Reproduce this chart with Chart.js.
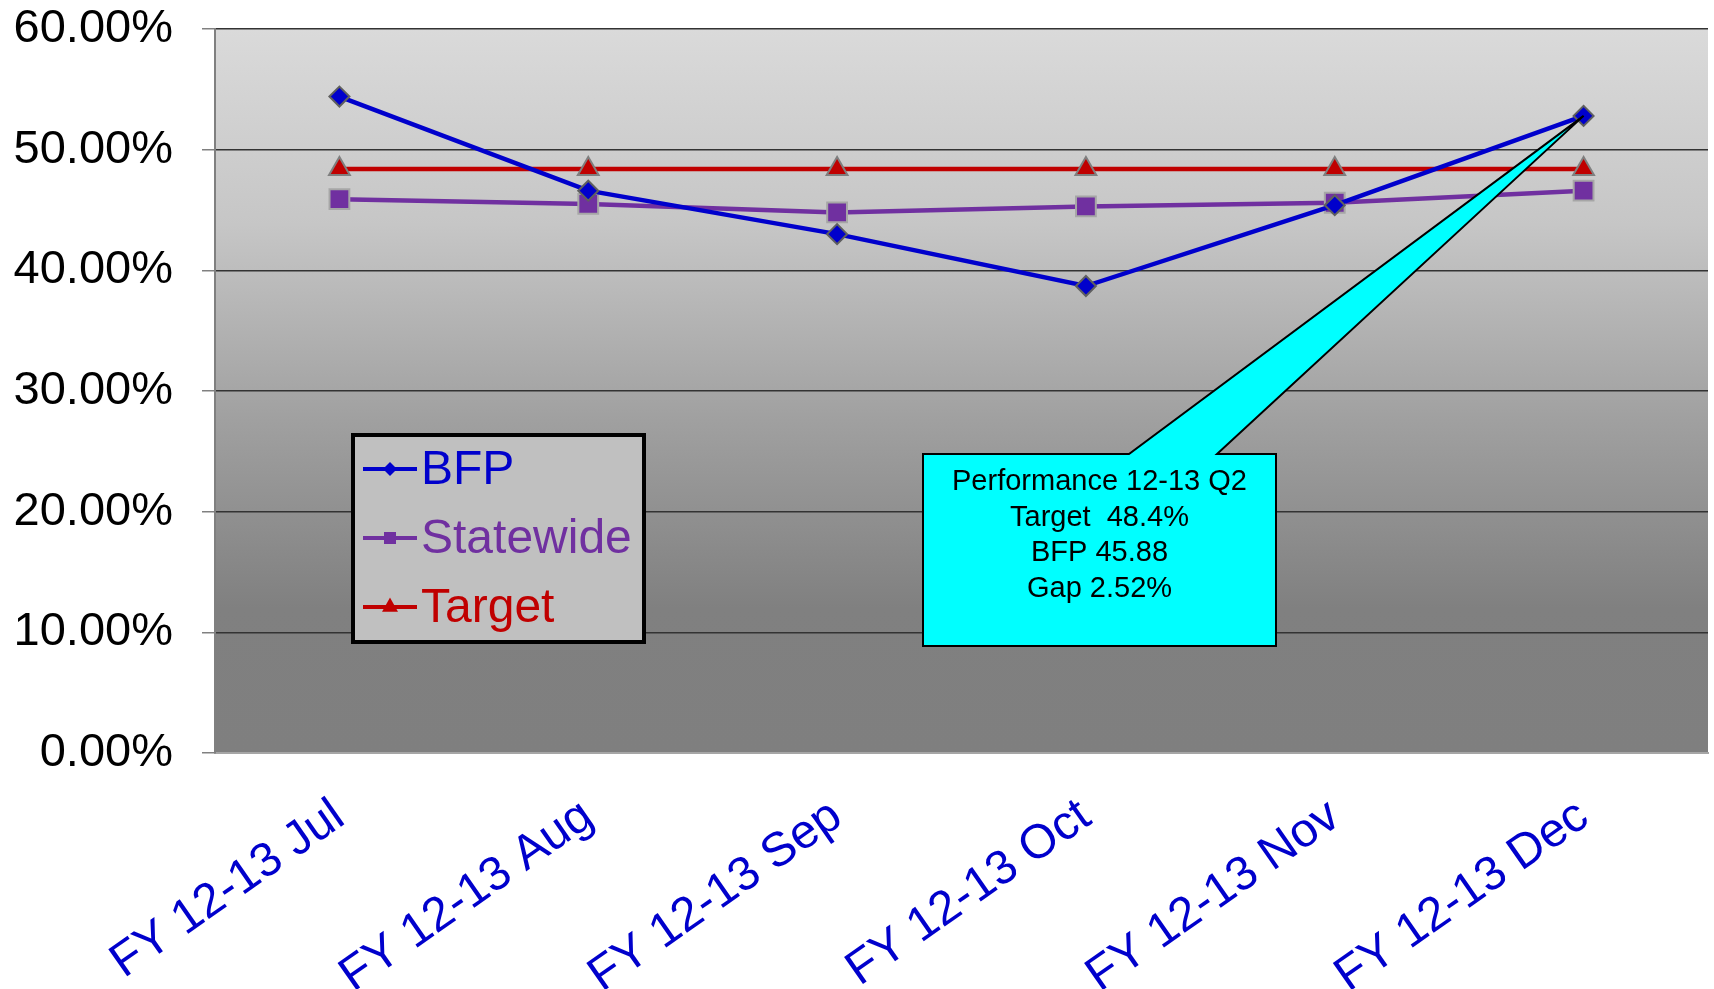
<!DOCTYPE html>
<html>
<head>
<meta charset="utf-8">
<script src="https://cdn.jsdelivr.net/npm/chart.js@4/dist/chart.umd.min.js"></script>
<style>
  html, body { margin: 0; padding: 0; background: #fff; }
  #wrap { width: 1714px; height: 989px; }
</style>
</head>
<body>
<div id="wrap"><canvas id="perfChart" width="1714" height="989"></canvas></div>
<script>
/*===============
data
====================*/
const months = ['FY 12-13 Jul', 'FY 12-13 Aug', 'FY 12-13 Sep', 'FY 12-13 Oct', 'FY 12-13 Nov', 'FY 12-13 Dec'];
const bfpValues = [54.4, 46.6, 43.0, 38.7, 45.4, 52.8];
const statewideValues = [45.9, 45.5, 44.8, 45.3, 45.6, 46.6];
const targetValues = [48.4, 48.4, 48.4, 48.4, 48.4, 48.4];
const calloutLines = ['Performance 12-13 Q2', 'Target  48.4%', 'BFP 45.88', 'Gap 2.52%'];

const FONT = '"Liberation Sans", Arial, sans-serif';

/*===============
plot background gradient
====================*/
const bgPlugin = {
    id: 'plotBg',
    beforeDraw(chart) {
        const { ctx, chartArea: a } = chart;
        const g = ctx.createLinearGradient(0, a.top, 0, a.bottom);
        g.addColorStop(0, '#dadada');
        g.addColorStop(0.27, '#c6c6c6');
        g.addColorStop(0.54, '#a0a0a0');
        g.addColorStop(0.8, '#808080');
        g.addColorStop(1, '#7f7f7f');
        ctx.save();
        ctx.fillStyle = g;
        ctx.fillRect(a.left, a.top, a.right - a.left, a.bottom - a.top);
        ctx.restore();
    }
};

function marker(ctx, style, x, y, s) {
    ctx.beginPath();
    if (style === 'diamond') {
        ctx.moveTo(x, y - s); ctx.lineTo(x + s, y); ctx.lineTo(x, y + s); ctx.lineTo(x - s, y);
    } else if (style === 'square') {
        ctx.rect(x - s, y - s, 2 * s, 2 * s);
    } else {
        ctx.moveTo(x, y - s * 1.2); ctx.lineTo(x + s, y + s * 0.6); ctx.lineTo(x - s, y + s * 0.6);
    }
    ctx.closePath();
    ctx.fill();
}

/*===============
legend box + callout
====================*/
const overlayPlugin = {
    id: 'overlay',
    afterDatasetsDraw(chart) {
        const ctx = chart.ctx;
        ctx.save();

        // callout pointing at last BFP point
        const meta = chart.getDatasetMeta(0);
        const tip = meta.data[meta.data.length - 1];
        const L = 923, R = 1276, T = 454, B = 646, b1 = 1129, b2 = 1217;
        ctx.beginPath();
        ctx.moveTo(L, T);
        ctx.lineTo(b1, T);
        ctx.lineTo(tip.x, tip.y);
        ctx.lineTo(b2, T);
        ctx.lineTo(R, T);
        ctx.lineTo(R, B);
        ctx.lineTo(L, B);
        ctx.closePath();
        ctx.fillStyle = '#00ffff';
        ctx.fill();
        ctx.lineWidth = 2;
        ctx.strokeStyle = '#000';
        ctx.stroke();
        ctx.fillStyle = '#000';
        ctx.font = '29px ' + FONT;
        ctx.textAlign = 'center';
        ctx.textBaseline = 'middle';
        calloutLines.forEach((t, i) => ctx.fillText(t, (L + R) / 2, 482 + i * 35.5));

        // legend
        ctx.fillStyle = '#c0c0c0';
        ctx.fillRect(353, 435, 291, 207);
        ctx.lineWidth = 4;
        ctx.strokeStyle = '#000';
        ctx.strokeRect(353, 435, 291, 207);
        const styles = ['diamond', 'square', 'triangle'];
        const sizes = [7, 6, 8];
        chart.data.datasets.forEach((ds, i) => {
            const y = 469 + i * 69;
            ctx.strokeStyle = ds.borderColor;
            ctx.lineWidth = 4;
            ctx.beginPath();
            ctx.moveTo(363, y);
            ctx.lineTo(417, y);
            ctx.stroke();
            ctx.fillStyle = ds.borderColor;
            marker(ctx, styles[i], 390, y, sizes[i]);
            ctx.font = '48px ' + FONT;
            ctx.textAlign = 'left';
            ctx.textBaseline = 'middle';
            ctx.fillText(ds.label, 421, y + 2);
        });
        ctx.restore();
    }
};

function noPad(scale) {
    scale.paddingTop = 0;
    scale.paddingBottom = 0;
    scale.paddingLeft = 0;
    scale.paddingRight = 0;
}

const perfChart = document.getElementById('perfChart');
if (perfChart) {
    new Chart(perfChart, {
        type: 'line',
        data: {
            labels: months,
            datasets: [
                {
                    label: 'BFP',
                    data: bfpValues,
                    borderColor: '#0000cc',
                    backgroundColor: '#0000cc',
                    borderWidth: 4.5,
                    pointStyle: 'rectRot',
                    pointRadius: 10,
                    pointBorderColor: '#5f5f5f',
                    pointBorderWidth: 2,
                    tension: 0
                },
                {
                    label: 'Statewide',
                    data: statewideValues,
                    borderColor: '#7030a0',
                    backgroundColor: '#7030a0',
                    borderWidth: 4.5,
                    pointStyle: 'rect',
                    pointRadius: 14,
                    pointBorderColor: '#a6a6a6',
                    pointBorderWidth: 2,
                    tension: 0
                },
                {
                    label: 'Target',
                    data: targetValues,
                    borderColor: '#c00000',
                    backgroundColor: '#c00000',
                    borderWidth: 4.5,
                    pointStyle: 'triangle',
                    pointRadius: 12,
                    pointBorderColor: '#7f7f7f',
                    pointBorderWidth: 2,
                    tension: 0
                }
            ]
        },
        options: {
            responsive: false,
            animation: false,
            layout: {
                autoPadding: false,
                padding: { top: 29, right: 6, left: 0, bottom: 0 }
            },
            plugins: {
                legend: { display: false },
                tooltip: { enabled: false }
            },
            scales: {
                x: {
                    offset: true,
                    grid: { display: false },
                    border: { color: '#a6a6a6', width: 2 },
                    ticks: {
                        autoSkip: false,
                        minRotation: 35,
                        maxRotation: 35,
                        padding: 27,
                        color: '#0000cc',
                        font: { family: FONT, size: 48 }
                    },
                    afterFit(scale) { scale.height = 236; noPad(scale); }
                },
                y: {
                    min: 0,
                    max: 60,
                    grid: {
                        color: (c) => c.tick && c.tick.value === 0 ? 'rgba(0,0,0,0)' : '#333333',
                        tickColor: '#808080',
                        tickLength: 13,
                        lineWidth: 1.5
                    },
                    border: { color: '#808080', width: 2 },
                    ticks: {
                        stepSize: 10,
                        padding: 29,
                        color: '#000',
                        font: { family: FONT, size: 47 },
                        callback: (v) => v.toFixed(2) + '%'
                    },
                    afterFit(scale) { scale.width = 215; noPad(scale); }
                }
            }
        },
        plugins: [bgPlugin, overlayPlugin]
    });
}
</script>
</body>
</html>
